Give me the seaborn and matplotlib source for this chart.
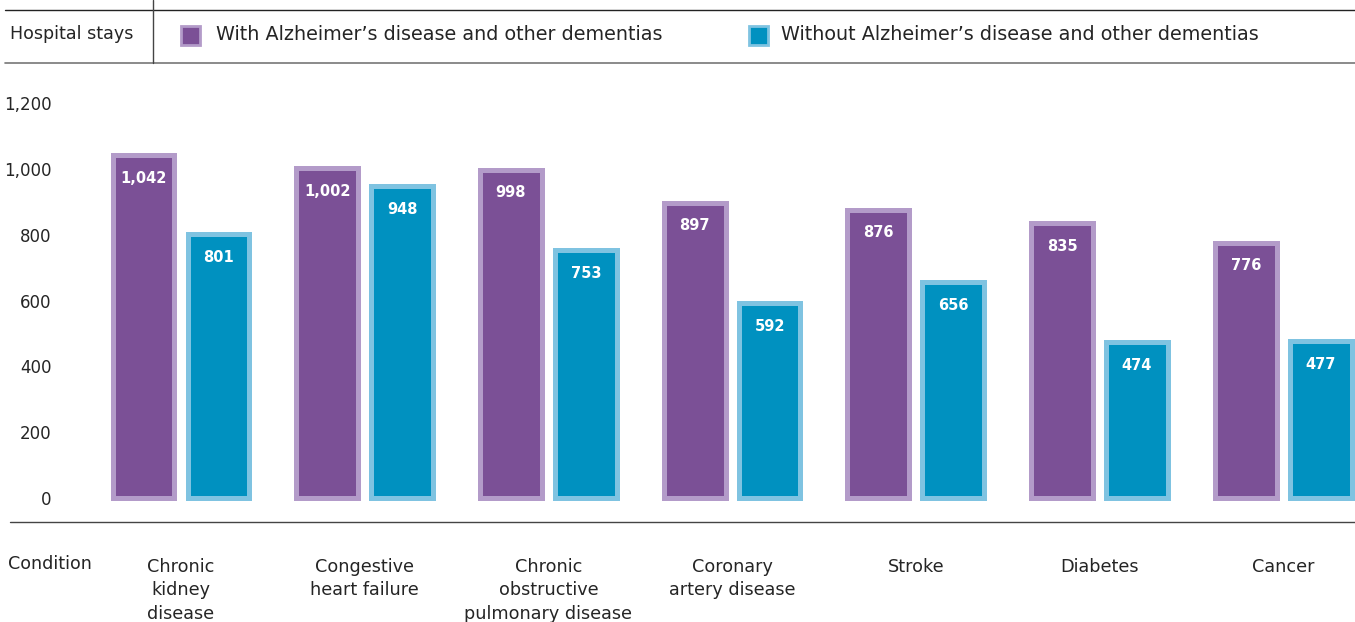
import pandas as pd
import seaborn as sns
import matplotlib.pyplot as plt
from matplotlib.patches import Rectangle
from matplotlib.lines import Line2D

# Data -----
conditions = ["Chronic\nkidney\ndisease", "Congestive\nheart failure",
              "Chronic\nobstructive\npulmonary disease", "Coronary\nartery disease",
              "Stroke", "Diabetes", "Cancer"]
series = ["With Alzheimer’s disease and other dementias",
          "Without Alzheimer’s disease and other dementias"]
with_dementia = [1042, 1002, 998, 897, 876, 835, 776]
without_dementia = [801, 948, 753, 592, 656, 474, 477]
yticks = [0, 200, 400, 600, 800, 1000, 1200]

face_colors = ["#7b5096", "#0091c0"]
edge_colors = ["#b39bc9", "#7fc3e1"]

df = pd.DataFrame({
    "Condition": conditions * 2,
    "Group": [series[0]] * len(conditions) + [series[1]] * len(conditions),
    "Stays": with_dementia + without_dementia,
})

W, H = 1355, 622
sns.set_theme(style="white")
plt.rcParams["font.family"] = ["DejaVu Sans"]
TXT = "#252525"

fig = plt.figure(figsize=(W / 100, H / 100), dpi=100)
ax = fig.add_axes([60 / W, (H - 522) / H, (W - 60) / W, (522 - 80) / H])

sns.barplot(data=df, x="Condition", y="Stays", hue="Group", hue_order=series,
            palette=face_colors, saturation=1, width=0.816, gap=0.175,
            legend=False, ax=ax)

# lighter border round each bar, value label inside the top
for container, ec in zip(ax.containers, edge_colors):
    for bar in container:
        bar.set_edgecolor(ec)
        bar.set_linewidth(3.6)
        bar.set_joinstyle("miter")
    ax.bar_label(container, labels=[f"{v:,.0f}" for v in container.datavalues],
                 padding=-22, color="white", fontsize=10.5, fontweight="bold")

ax.set_xlim((60 - 181) / 183.7, (W - 181) / 183.7)
ax.set_ylim(-73, 1270)
ax.set_yticks(yticks)
ax.set_yticklabels([f"{v:,}" for v in yticks])
ax.set_xticks(range(len(conditions)))
ax.set_xticklabels(conditions, linespacing=1.38)
ax.tick_params(axis="y", length=0, pad=6, labelsize=12, labelcolor=TXT)
ax.tick_params(axis="x", length=16.5, width=0.9, color="#555555", direction="out",
               pad=9.5, labelsize=12.7, labelcolor=TXT)
ax.set_xlabel("")
ax.set_ylabel("")
sns.despine(ax=ax, left=True, bottom=True)

# axis line and header rules -----
def px_line(x0, x1, y0, y1, color, lw):
    fig.add_artist(Line2D([x0 / W, x1 / W], [1 - y0 / H, 1 - y1 / H],
                          transform=fig.transFigure, color=color, lw=lw))

px_line(10, W, 522, 522, "#444444", 1.0)
px_line(5, W, 10, 10, "#222222", 1.0)
px_line(5, W, 63, 63, "#777777", 1.2)
px_line(153, 153, 0, 63, "#444444", 1.0)

fig.text(10 / W, 1 - 34 / H, "Hospital stays", fontsize=12.6, color=TXT, va="center")
fig.text(8 / W, 1 - 564 / H, "Condition", fontsize=12.6, color=TXT, va="center")

# legend -----
for x_box, x_txt, fc, ec, name in zip([181, 749], [216, 781], face_colors, edge_colors, series):
    fig.add_artist(Rectangle((x_box / W, 1 - 45 / H), 19 / W, 19 / H, transform=fig.transFigure,
                             facecolor=fc, edgecolor=ec, lw=2))
    fig.text(x_txt / W, 1 - 35 / H, name, fontsize=13.8, color=TXT, va="center")

fig.savefig("out.png", dpi=100)
